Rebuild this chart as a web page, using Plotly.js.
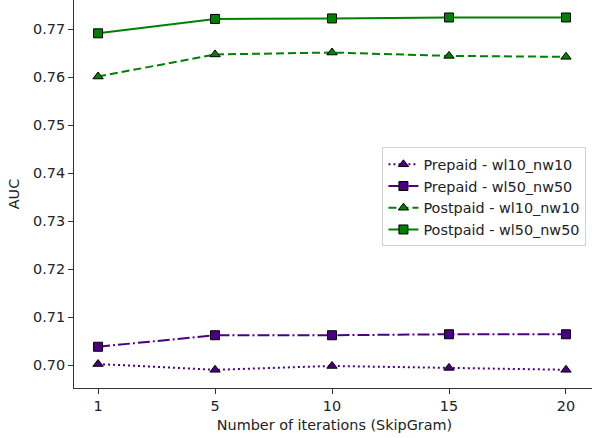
<!DOCTYPE html>
<html>
<head>
<meta charset="utf-8">
<script src="https://cdn.plot.ly/plotly-3.0.1.min.js"></script>
<style>html,body{margin:0;padding:0;overflow:hidden;background:#fff;}</style>
</head>
<body>
<div id="chart"></div>
<script>
const iterations = ["1", "5", "10", "15", "20"];
const prepaidWl10 = [0.7002, 0.6990, 0.6998, 0.6994, 0.6990];
const prepaidWl50 = [0.7038, 0.7062, 0.7062, 0.7064, 0.7064];
const postpaidWl10 = [0.7601, 0.7647, 0.7651, 0.7644, 0.7642];
const postpaidWl50 = [0.7691, 0.7721, 0.7722, 0.7724, 0.7724];
const seriesNames = ["Prepaid - wl10_nw10", "Prepaid - wl50_nw50", "Postpaid - wl10_nw10", "Postpaid - wl50_nw50"];
const yTicks = [0.70, 0.71, 0.72, 0.73, 0.74, 0.75, 0.76, 0.77];

const purple = "#4b0082";
const green = "#008000";
function tr(y, name, color, dash, symbol) {
  return {
    x: iterations, y: y, name: name, type: "scatter", mode: "lines+markers",
    line: {color: color, width: 2, dash: dash},
    marker: {color: color, symbol: symbol, size: 9, line: {color: "#000", width: 1}}
  };
}
const data = [
  tr(prepaidWl10, seriesNames[0], purple, "2px,3px", "triangle-up"),
  tr(prepaidWl50, seriesNames[1], purple, "12px,3px,2px,3px", "square"),
  tr(postpaidWl10, seriesNames[2], green, "8px,4px", "triangle-up"),
  tr(postpaidWl50, seriesNames[3], green, "solid", "square")
];
const font = {family: "DejaVu Sans, sans-serif", size: 14.4, color: "#222"};
const layout = {
  width: 600, height: 438,
  margin: {l: 74, r: 5, t: 0, b: 50},
  paper_bgcolor: "#fff", plot_bgcolor: "#fff",
  font: font,
  showlegend: true,
  legend: {x: 0.592, y: 0.62, xanchor: "left", yanchor: "top",
    bgcolor: "rgba(255,255,255,0.8)", bordercolor: "#d0d0d0", borderwidth: 1,
    font: font, tracegroupgap: 0},
  xaxis: {type: "category", range: [-0.2056, 4.248],
    showgrid: false, zeroline: false, showline: true, linecolor: "#333", linewidth: 1,
    mirror: true, ticks: "outside", ticklen: 5, tickcolor: "#333",
    title: {text: "Number of iterations (SkipGram)", font: font, standoff: 6}},
  yaxis: {range: [0.695208, 0.776042], tickvals: yTicks, ticktext: yTicks.map(v => v.toFixed(2)),
    showgrid: false, zeroline: false, showline: true, linecolor: "#333", linewidth: 1,
    mirror: true, ticks: "outside", ticklen: 5, tickcolor: "#333",
    title: {text: "AUC", font: font, standoff: 10}}
};
Plotly.newPlot("chart", data, layout, {displayModeBar: false, staticPlot: true});
</script>
</body>
</html>
